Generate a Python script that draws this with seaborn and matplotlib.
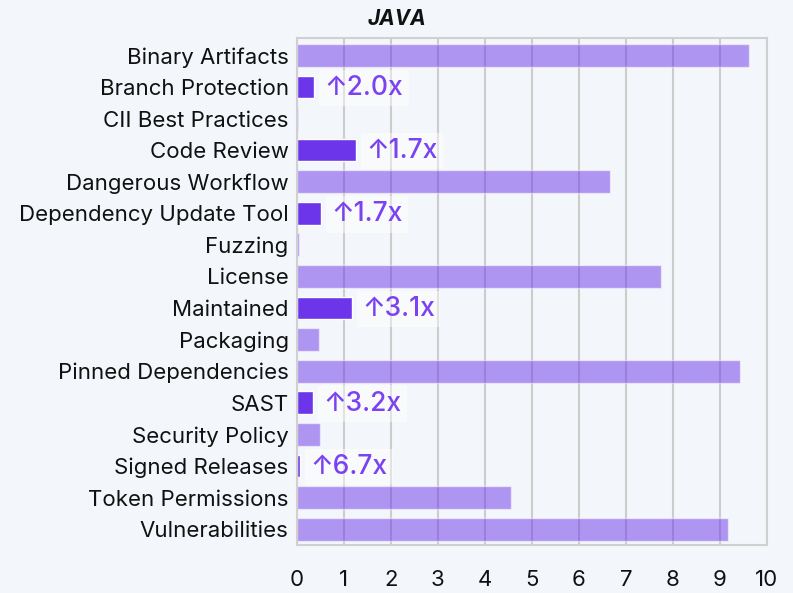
import numpy as np
import pandas as pd
import seaborn as sns
import matplotlib.pyplot as plt

# data
checks = ['Binary Artifacts', 'Branch Protection', 'CII Best Practices', 'Code Review',
          'Dangerous Workflow', 'Dependency Update Tool', 'Fuzzing', 'License',
          'Maintained', 'Packaging', 'Pinned Dependencies', 'SAST', 'Security Policy',
          'Signed Releases', 'Token Permissions', 'Vulnerabilities']
scores = [9.62, 0.37, 0.02, 1.25, 6.66, 0.51, 0.05, 7.74,
          1.17, 0.47, 9.43, 0.34, 0.49, 0.07, 4.55, 9.17]
highlight = [False, True, False, True, False, True, False, False,
             True, False, False, True, False, True, False, False]
uplift = {'Branch Protection': '2.0x', 'Code Review': '1.7x',
          'Dependency Update Tool': '1.7x', 'Maintained': '3.1x',
          'SAST': '3.2x', 'Signed Releases': '6.7x'}

df = pd.DataFrame({'check': checks, 'score': scores, 'hl': highlight})

bg = '#F3F7FB'
purple = '#6C35EA'

sns.set_style('white')
plt.rcParams['font.family'] = ['Inter', 'DejaVu Sans']

fig = plt.figure(figsize=(7.93, 5.93), dpi=100, facecolor=bg)
ax = fig.add_axes([0.3745, 0.081, 0.5925, 0.855])
ax.set_facecolor(bg)

sns.barplot(data=df, y='check', x='score', hue='hl', dodge=False,
            palette={True: purple, False: purple}, width=0.72,
            legend=False, ax=ax, saturation=1)

# light bars are semi transparent so grid shows through
for p in ax.patches:
    y = p.get_y() + p.get_height() / 2
    i = int(round(y))
    if 0 <= i < len(checks) and not highlight[i]:
        p.set_alpha(0.5)

# annotations
for i, c in enumerate(checks):
    if c in uplift:
        ax.text(scores[i] + 0.22, i + 0.03, '\u2191' + uplift[c], va='center', ha='left',
                fontsize=19, fontweight='medium', color='#7A42F0',
                bbox=dict(boxstyle='square,pad=0.2', fc='white', ec='none', alpha=0.45))

ax.set_xlim(0, 10)
ax.set_ylim(15.5, -0.55)
ax.set_xticks(range(0, 11))
ax.set_yticks(np.arange(-0.5, 15.6, 1), minor=True)
ax.grid(axis='x', color='#CCCCCC', lw=1.5)
ax.set_axisbelow(True)
for s in ax.spines.values():
    s.set_color('#D0D0D0')
    s.set_linewidth(1.5)

ax.tick_params(axis='x', length=0, pad=18, labelsize=16, labelcolor='#111111')
ax.tick_params(axis='y', which='major', length=0, pad=6, labelsize=16, labelcolor='#111111')
ax.tick_params(axis='y', which='minor', length=8, width=1.2, color='#D0D0D0', direction='inout')
ax.set_xlabel('')
ax.set_ylabel('')

fig.suptitle('JAVA', x=0.5, y=0.985, fontsize=15, fontweight='bold', fontstyle='italic', color='#111111')

fig.savefig('out.png', dpi=100, facecolor=bg)
